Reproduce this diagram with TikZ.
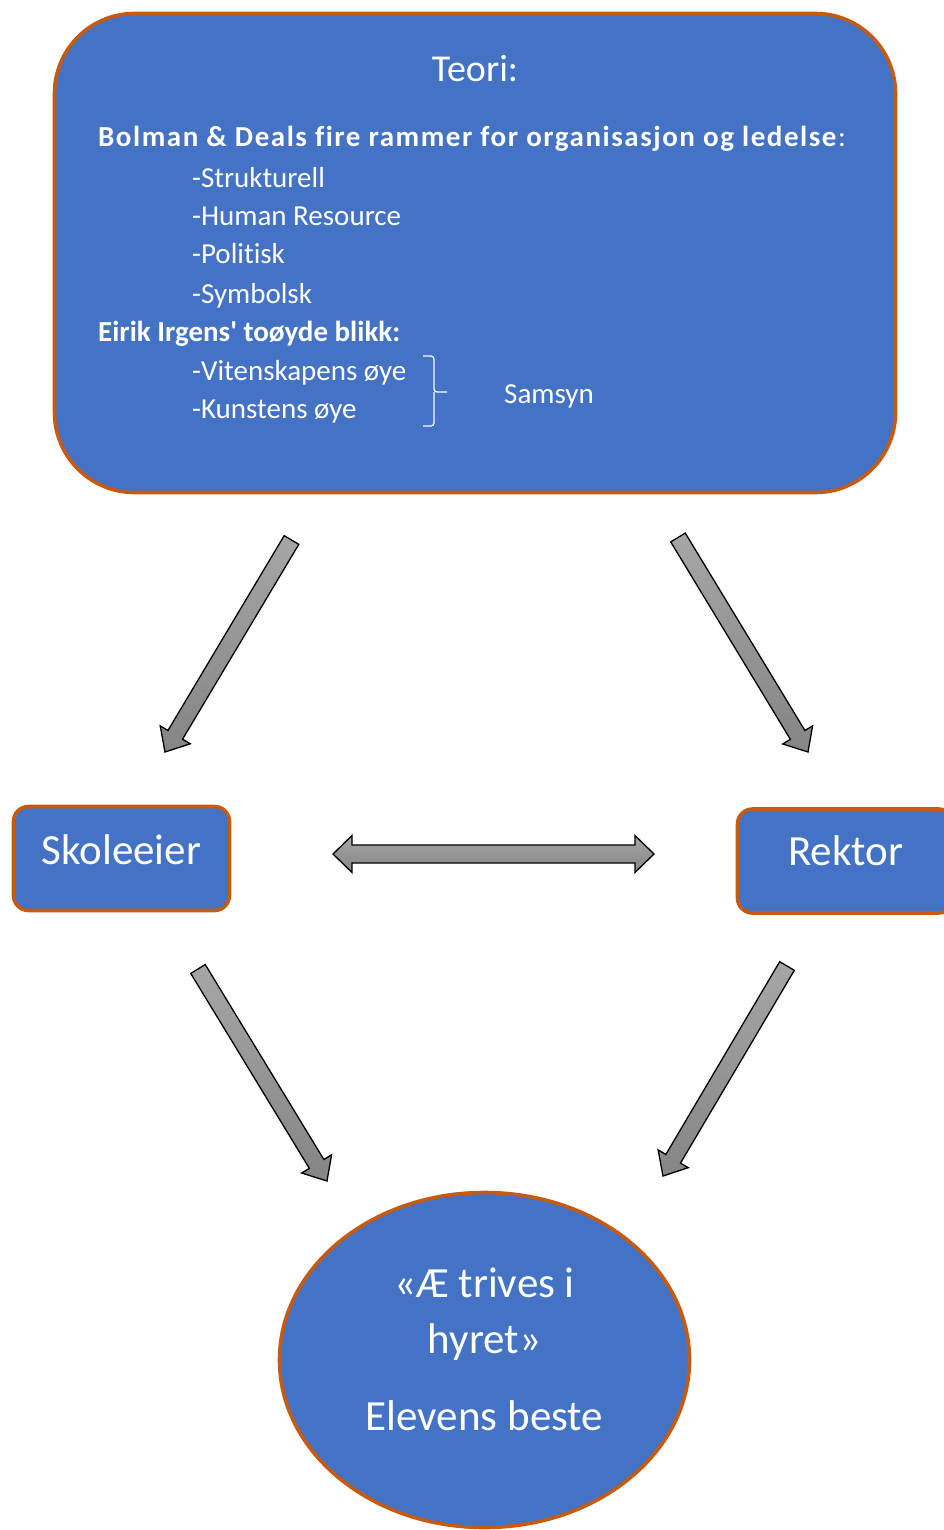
\documentclass[tikz,border=0pt]{standalone}
\usepackage{fontspec}
\setmainfont{Carlito}[Ligatures=NoCommon]
\usetikzlibrary{calc}
\usetikzlibrary{shapes.geometric}

\definecolor{boxblue}{HTML}{4472C4}
\definecolor{boxorange}{HTML}{C55A11}
\definecolor{arrowlight}{HTML}{A6A6A6}
\definecolor{arrowdark}{HTML}{858585}

\tikzset{
  boxshape/.style={draw=boxorange, line width=3.6pt, fill=boxblue, inner sep=0pt},
  txt/.style={text=white, inner sep=0pt, anchor=base west, font=\fontsize{29}{38}\selectfont},
  bigtxt/.style={text=white, inner sep=0pt, anchor=base, font=\fontsize{43}{50}\selectfont},
  blockarrow/.style={draw=black, line width=1.3pt, line join=miter, top color=arrowlight, bottom color=arrowdark}
}

% block arrow from #1 to #2
\newcommand\fatarrow[2]{
  \coordinate (h) at ($(#2)!20pt!(#1)$);
  \draw[blockarrow] ($(#1)!8.5pt!90:(#2)$) -- ($(h)!8.5pt!-90:(#1)$) -- ($(h)!17.5pt!-90:(#1)$)
    -- (#2) -- ($(h)!17.5pt!90:(#1)$) -- ($(h)!8.5pt!90:(#1)$) -- ($(#1)!8.5pt!-90:(#2)$) -- cycle;
}

\begin{document}
\begin{tikzpicture}[x=1pt, y=-1pt]
\useasboundingbox (0,0) rectangle (944,1530);

\node[boxshape, rectangle, rounded corners=80pt, minimum width=841pt, minimum height=479pt] (teori) at (475,253) {};
\node[txt, anchor=base, font=\fontsize{38}{44}\selectfont] (teoriTitle) at (475,82) {Teori:};
\node[txt] (bolman) at (98,147) {\addfontfeature{LetterSpace=5.3}\textbf{Bolman \& Deals fire rammer for organisasjon og ledelse}:};
\node[txt] (strukt) at (192,188) {-Strukturell};
\node[txt] (human) at (192,226) {-Human Resource};
\node[txt] (polit) at (192,264) {-Politisk};
\node[txt] (symb) at (192,303) {-Symbolsk};
\node[txt] (irgens) at (98,341) {\textbf{Eirik Irgens\textquotesingle\ toøyde blikk:}};
\node[txt] (viten) at (192,380) {-Vitenskapens øye};
\node[txt] (kunst) at (192,418) {-Kunstens øye};
\node[txt] (samsyn) at (504,403) {Samsyn};
\draw[white, line width=1.2pt, rounded corners=3pt] (423,356) -| (434,392) -- (447,392);
\draw[white, line width=1.2pt, rounded corners=3pt] (434,392) |- (423,426);

\node[boxshape, rectangle, rounded corners=15pt, minimum width=216pt, minimum height=104pt] (skoleeier) at (121.5,858.5) {};
\node[bigtxt] (skoleeierTxt) at (121.5,864) {Skoleeier};
\node[boxshape, rectangle, rounded corners=15pt, minimum width=216pt, minimum height=104pt] (rektor) at (845.5,861) {};
\node[bigtxt] (rektorTxt) at (845.5,865) {Rektor};

\node[boxshape, ellipse, minimum width=410pt, minimum height=335pt] (elev) at (484.5,1360) {};
\node[bigtxt] (elevA) at (484.5,1297) {«Æ trives i};
\node[bigtxt] (elevB) at (484.5,1353) {hyret»};
\node[bigtxt] (elevC) at (484.5,1430) {Elevens beste};

\coordinate (a1s) at (291.5,540);
\coordinate (a1e) at (165,752);
\coordinate (a2s) at (678,537.5);
\coordinate (a2e) at (808,752);
\coordinate (a4s) at (198,969);
\coordinate (a4e) at (327,1181);
\coordinate (a5s) at (787,966);
\coordinate (a5e) at (663,1176);
\fatarrow{a1s}{a1e}
\fatarrow{a2s}{a2e}
\fatarrow{a4s}{a4e}
\fatarrow{a5s}{a5e}

\coordinate (da1) at (333,854);
\coordinate (da2) at (654,854);
\draw[blockarrow] (da1) -- ++(19,-18.5) -- ++(0,9.5) -- ($(da2)+(-19,-9)$) -- ++(0,-9.5) -- (da2)
  -- ++(-19,18.5) -- ++(0,-9.5) -- ($(da1)+(19,9)$) -- ++(0,9.5) -- cycle;
\end{tikzpicture}
\end{document}
